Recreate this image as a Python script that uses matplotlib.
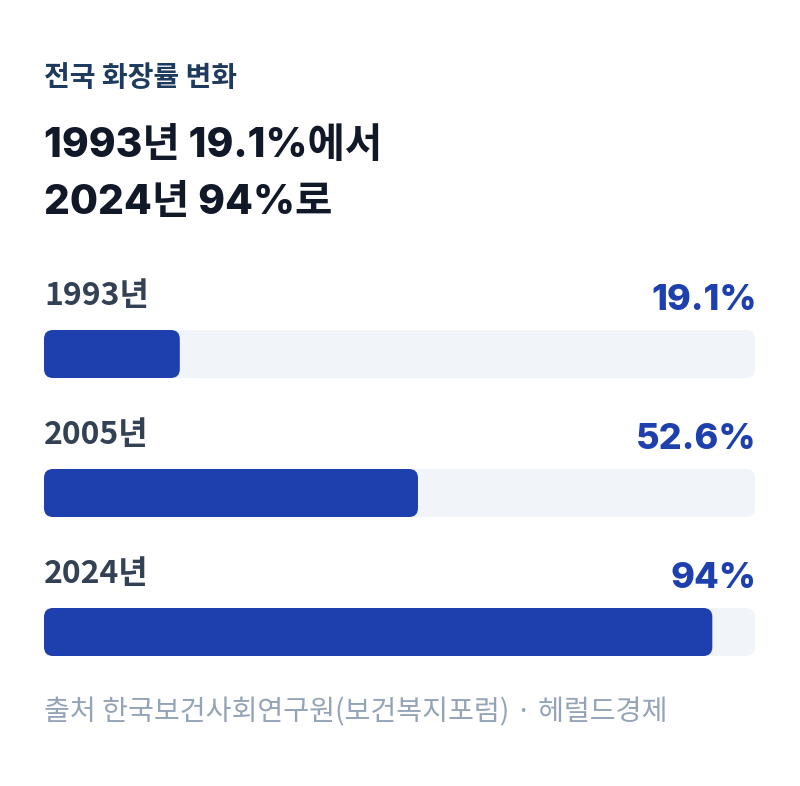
import matplotlib
matplotlib.use("Agg")
import matplotlib.pyplot as plt
from matplotlib.patches import FancyBboxPatch

years = ["1993년", "2005년", "2024년"]
values = [19.1, 52.6, 94.0]
value_labels = ["19.1%", "52.6%", "94%"]
subtitle = "전국 화장률 변화"
title_lines = ["1993년 19.1%에서", "2024년 94%로"]
source = "출처 한국보건사회연구원(보건복지포럼) · 헤럴드경제"

W, H = 800, 786
fig = plt.figure(figsize=(W / 100, H / 100), dpi=100)
fig.patch.set_facecolor("white")

KR = ["Noto Sans CJK KR", "DejaVu Sans"]
LAT = ["Inter", "Noto Sans CJK KR", "DejaVu Sans"]

BAR = "#1e40af"
TRACK = "#f1f5f9"

def fy(px):
    return 1 - px / H

fig.text(44 / W, fy(86), subtitle, family=KR, fontweight="bold", fontsize=20.2,
         color="#1e3a5f", va="baseline", ha="left")
fig.text(44 / W, fy(157), title_lines[0], family=LAT, fontweight="heavy", fontsize=29.3,
         color="#111827", va="baseline", ha="left")
fig.text(44 / W, fy(214), title_lines[1], family=LAT, fontweight="heavy", fontsize=29.3,
         color="#111827", va="baseline", ha="left")
fig.text(44 / W, fy(720), source, family=KR, fontsize=20.3,
         color="#94a3b8", va="baseline", ha="left")

# axes covering the bar track area
left_px, right_px = 44, 755
top_px, bot_px = 284.5, 701.5
ax = fig.add_axes([left_px / W, fy(bot_px), (right_px - left_px) / W, (bot_px - top_px) / H])
ax.set_xlim(0, 100)
ax.set_ylim(2.5, -0.5)
ax.axis("off")

px_per_y = (bot_px - top_px) / 3.0
bar_h = 48 / px_per_y
xu_per_px = 100 / (right_px - left_px)
yu_per_px = 1 / px_per_y
r_px = 9
aspect = yu_per_px / xu_per_px

pos = list(range(len(years)))
tracks = ax.barh(pos, [100] * len(years), height=bar_h, color="none")
bars = ax.barh(pos, values, height=bar_h, color="none")

for rect, col in [(r, TRACK) for r in tracks] + [(r, BAR) for r in bars]:
    x0, y0 = rect.get_x(), rect.get_y()
    w, h = rect.get_width(), rect.get_height()
    p = FancyBboxPatch((x0, y0), w, h,
                       boxstyle=f"round,pad=0,rounding_size={r_px * xu_per_px}",
                       mutation_aspect=aspect, facecolor=col, edgecolor="none")
    ax.add_patch(p)
    rect.set_visible(False)

for i, (yl, vl) in enumerate(zip(years, value_labels)):
    ax.text(0, i - 49 * yu_per_px, yl, family=KR, fontweight="heavy", fontsize=23,
            color="#334155", ha="left", va="baseline")
    ax.text(100.25, i - 44 * yu_per_px, vl, family=LAT, fontweight="heavy", fontsize=26,
            color=BAR, ha="right", va="baseline")

fig.savefig("out.png", dpi=100, facecolor="white")
